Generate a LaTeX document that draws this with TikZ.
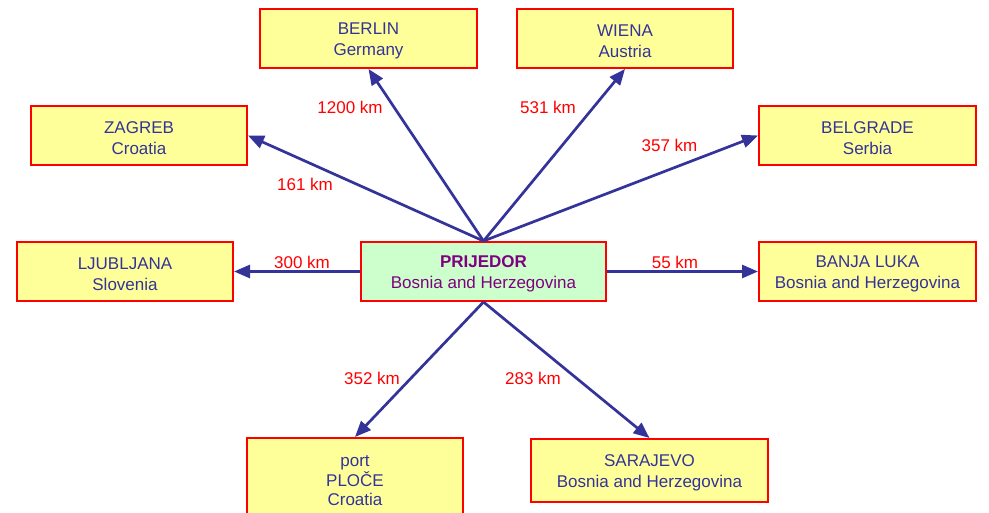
\documentclass[tikz,border=0pt]{standalone}
\usepackage{fontspec}
\setmainfont{Liberation Sans}
\usetikzlibrary{arrows.meta}
\definecolor{cityblue}{RGB}{51,51,153}
\definecolor{boxyellow}{RGB}{255,255,153}
\definecolor{boxgreen}{RGB}{204,255,204}
\definecolor{hubpurple}{RGB}{128,0,128}
\newcommand{\topstrut}{\rule{0pt}{17pt}}
\begin{document}
\begin{tikzpicture}[x=1pt,y=-1pt,font=\fontsize{17}{21}\selectfont,
city/.style={draw=red,line width=2pt,fill=boxyellow,text=cityblue,align=center,minimum width=216pt,minimum height=59pt,inner sep=0pt},
hub/.style={city,fill=boxgreen,text=hubpurple,minimum width=245pt},
road/.style={draw=cityblue,line width=2.7pt,-{Triangle[length=16pt,width=13pt]}},
dist/.style={text=red,inner sep=1pt}]
\clip(0,0)rectangle(989,513);
\fill[white](0,0)rectangle(989,513);
% centre
\node[hub](prijedor)at(483.5,271.5){\topstrut\textbf{PRIJEDOR}\\Bosnia and Herzegovina};
% cities
\node[city,minimum width=217pt](berlin)at(368.5,38.5){\topstrut BERLIN\\Germany};
\node[city](wiena)at(625,38.5){\topstrut WIENA\\Austria};
\node[city](zagreb)at(139,135.5){\topstrut ZAGREB\\Croatia};
\node[city,minimum width=217pt](belgrade)at(867.5,135.5){\topstrut BELGRADE\\Serbia};
\node[city](ljubljana)at(125,271.5){\topstrut LJUBLJANA\\Slovenia};
\node[city,minimum width=217pt](banjaluka)at(867.5,271.5){\topstrut BANJA LUKA\\Bosnia and Herzegovina};
\node[city,minimum height=86pt,anchor=north,font=\fontsize{17}{19.5}\selectfont](ploce)at(355,437){port\\PLOČE\\Croatia};
\node[city,minimum width=237pt,minimum height=63pt](sarajevo)at(649.5,470.5){\topstrut SARAJEVO\\Bosnia and Herzegovina};
% roads
\draw[road](prijedor.north)--(berlin.south);
\draw[road](prijedor.north)--(wiena.south);
\draw[road](prijedor.north)--(zagreb.east);
\draw[road](prijedor.north)--(belgrade.west);
\draw[road](prijedor.west)--(ljubljana.east);
\draw[road](prijedor.east)--(banjaluka.west);
\draw[road](prijedor.south)--(ploce.north);
\draw[road](prijedor.south)--(sarajevo.north);
% distances
\node[dist](d-berlin)at(350,107){1200 km};
\node[dist](d-wiena)at(548,107){531 km};
\node[dist](d-zagreb)at(305,184){161 km};
\node[dist](d-belgrade)at(669.5,145){357 km};
\node[dist](d-ljubljana)at(302,262){300 km};
\node[dist](d-banjaluka)at(675,262){55 km};
\node[dist](d-ploce)at(372,378){352 km};
\node[dist](d-sarajevo)at(533,378){283 km};
\end{tikzpicture}
\end{document}
